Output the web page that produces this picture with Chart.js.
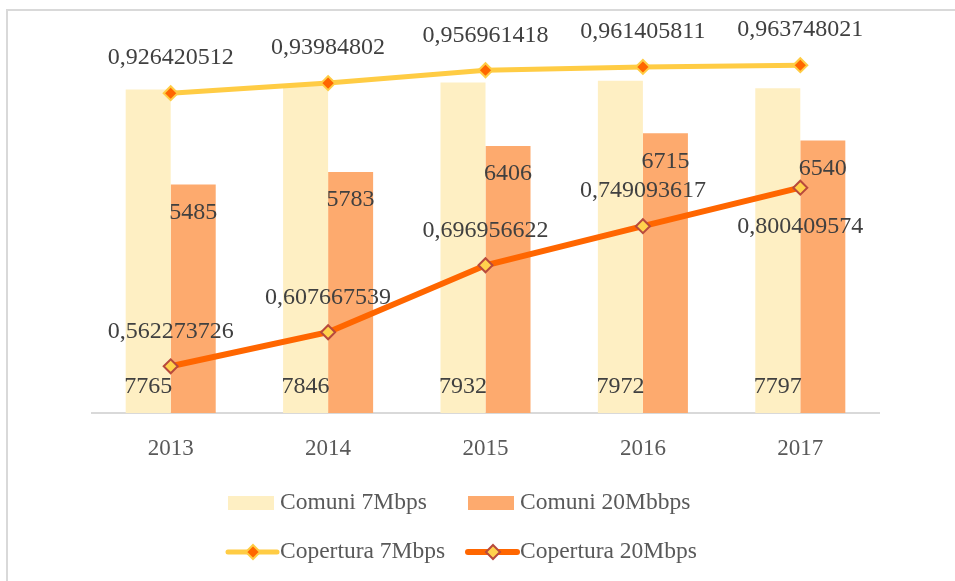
<!DOCTYPE html>
<html>
<head>
<meta charset="utf-8">
<script src="https://cdn.jsdelivr.net/npm/chart.js@4"></script>
<style>
  html,body{margin:0;padding:0;background:#fff;}
  #wrap{width:955px;height:581px;position:relative;}
</style>
</head>
<body>
<div id="wrap"><canvas id="c" width="955" height="581"></canvas></div>
<script>
// Comuni / Copertura 2013-2017
const years=['2013','2014','2015','2016','2017'];
const comuni7=[7765,7846,7932,7972,7797];
const comuni20=[5485,5783,6406,6715,6540];
const copertura7=[0.926420512,0.93984802,0.956961418,0.961405811,0.963748021];
const copertura20=[0.562273726,0.607667539,0.696956622,0.749093617,0.800409574];

const FONT='"Liberation Serif", "DejaVu Serif", serif';
const fmt=v=>String(v).replace('.',',');

// data labels, placed relative to each element
const labelsPlugin={
  id:'labels',
  afterDatasetsDraw(chart){
    const ctx=chart.ctx, bottom=chart.chartArea.bottom;
    ctx.save();
    ctx.font='24px '+FONT; ctx.fillStyle='#404040'; ctx.textAlign='center'; ctx.textBaseline='middle';
    chart.data.datasets.forEach((ds,i)=>{
      const meta=chart.getDatasetMeta(i);
      meta.data.forEach((el,j)=>{
        const v=ds.data[j]; let y;
        if(ds.lbl==='base') y=bottom-26;
        else if(ds.lbl==='insideEnd') y=el.y+28;
        else y=(ds.below&&ds.below[j]) ? el.y+39 : el.y-35;
        ctx.fillText(fmt(v),el.x,y);
      });
    });
    ctx.restore();
  }
};

// frame + 2x2 legend
const legendPlugin={
  id:'legend2',
  beforeDraw(chart){
    const ctx=chart.ctx;
    ctx.save();
    ctx.strokeStyle='#d9d9d9'; ctx.lineWidth=2;
    ctx.beginPath(); ctx.moveTo(7,581); ctx.lineTo(7,10); ctx.lineTo(955,10); ctx.stroke();
    ctx.restore();
  },
  afterDraw(chart){
    const ctx=chart.ctx, ds=chart.data.datasets;
    const cols=[228,468], rows=[503,552];
    ctx.save();
    ctx.font='23.5px '+FONT; ctx.fillStyle='#595959'; ctx.textBaseline='middle'; ctx.textAlign='left';
    ds.forEach((d,i)=>{
      const x=cols[i%2], y=rows[Math.floor(i/2)];
      if(d.type==='bar'){
        ctx.fillStyle=d.backgroundColor; ctx.fillRect(x,y-7,46,14);
      }else{
        ctx.strokeStyle=d.borderColor; ctx.lineWidth=d.borderWidth; ctx.lineCap='round';
        ctx.beginPath(); ctx.moveTo(x,y); ctx.lineTo(x+49,y); ctx.stroke();
        const r=d.pointRadius, cx=x+25;
        ctx.beginPath(); ctx.moveTo(cx,y-r); ctx.lineTo(cx+r,y); ctx.lineTo(cx,y+r); ctx.lineTo(cx-r,y); ctx.closePath();
        ctx.fillStyle=d.pointBackgroundColor; ctx.fill();
        ctx.strokeStyle=d.pointBorderColor; ctx.lineWidth=d.pointBorderWidth; ctx.stroke();
      }
      ctx.fillStyle='#595959';
      ctx.fillText(d.label,x+52,y);
    });
    ctx.restore();
  }
};

new Chart(document.getElementById('c'),{
  data:{
    labels:years,
    datasets:[
      {type:'bar',label:'Comuni 7Mbps',data:comuni7,backgroundColor:'#FEEFC3',yAxisID:'y',order:2,lbl:'base',
       categoryPercentage:0.572,barPercentage:1},
      {type:'bar',label:'Comuni 20Mbbps',data:comuni20,backgroundColor:'#FDAA6E',yAxisID:'y',order:2,lbl:'insideEnd',
       categoryPercentage:0.572,barPercentage:1},
      {type:'line',label:'Copertura 7Mbps',data:copertura7,yAxisID:'y1',order:1,borderColor:'#FFCC44',borderWidth:5,
       pointStyle:'rectRot',pointRadius:7,pointBackgroundColor:'#FF6600',pointBorderColor:'#FFCC44',pointBorderWidth:2},
      {type:'line',label:'Copertura 20Mbps',data:copertura20,yAxisID:'y1',order:0,borderColor:'#FF6600',borderWidth:6,
       pointStyle:'rectRot',pointRadius:7,pointBackgroundColor:'#FFD24D',pointBorderColor:'#B84A3C',pointBorderWidth:2,
       below:[false,false,false,false,true]}
    ]
  },
  options:{
    responsive:false,animation:false,
    layout:{padding:{left:92,right:76,top:38,bottom:108}},
    plugins:{legend:{display:false},tooltip:{enabled:false}},
    scales:{
      x:{offset:true,grid:{display:false,drawTicks:false},border:{display:true,color:'#d9d9d9',width:2},
         ticks:{color:'#595959',font:{family:FONT,size:23},padding:22},
         afterFit(s){s.height=60;}},
      y:{display:false,min:0,max:9000},
      y1:{display:false,min:0.5,max:1.0}
    }
  },
  plugins:[labelsPlugin,legendPlugin]
});
</script>
</body>
</html>
